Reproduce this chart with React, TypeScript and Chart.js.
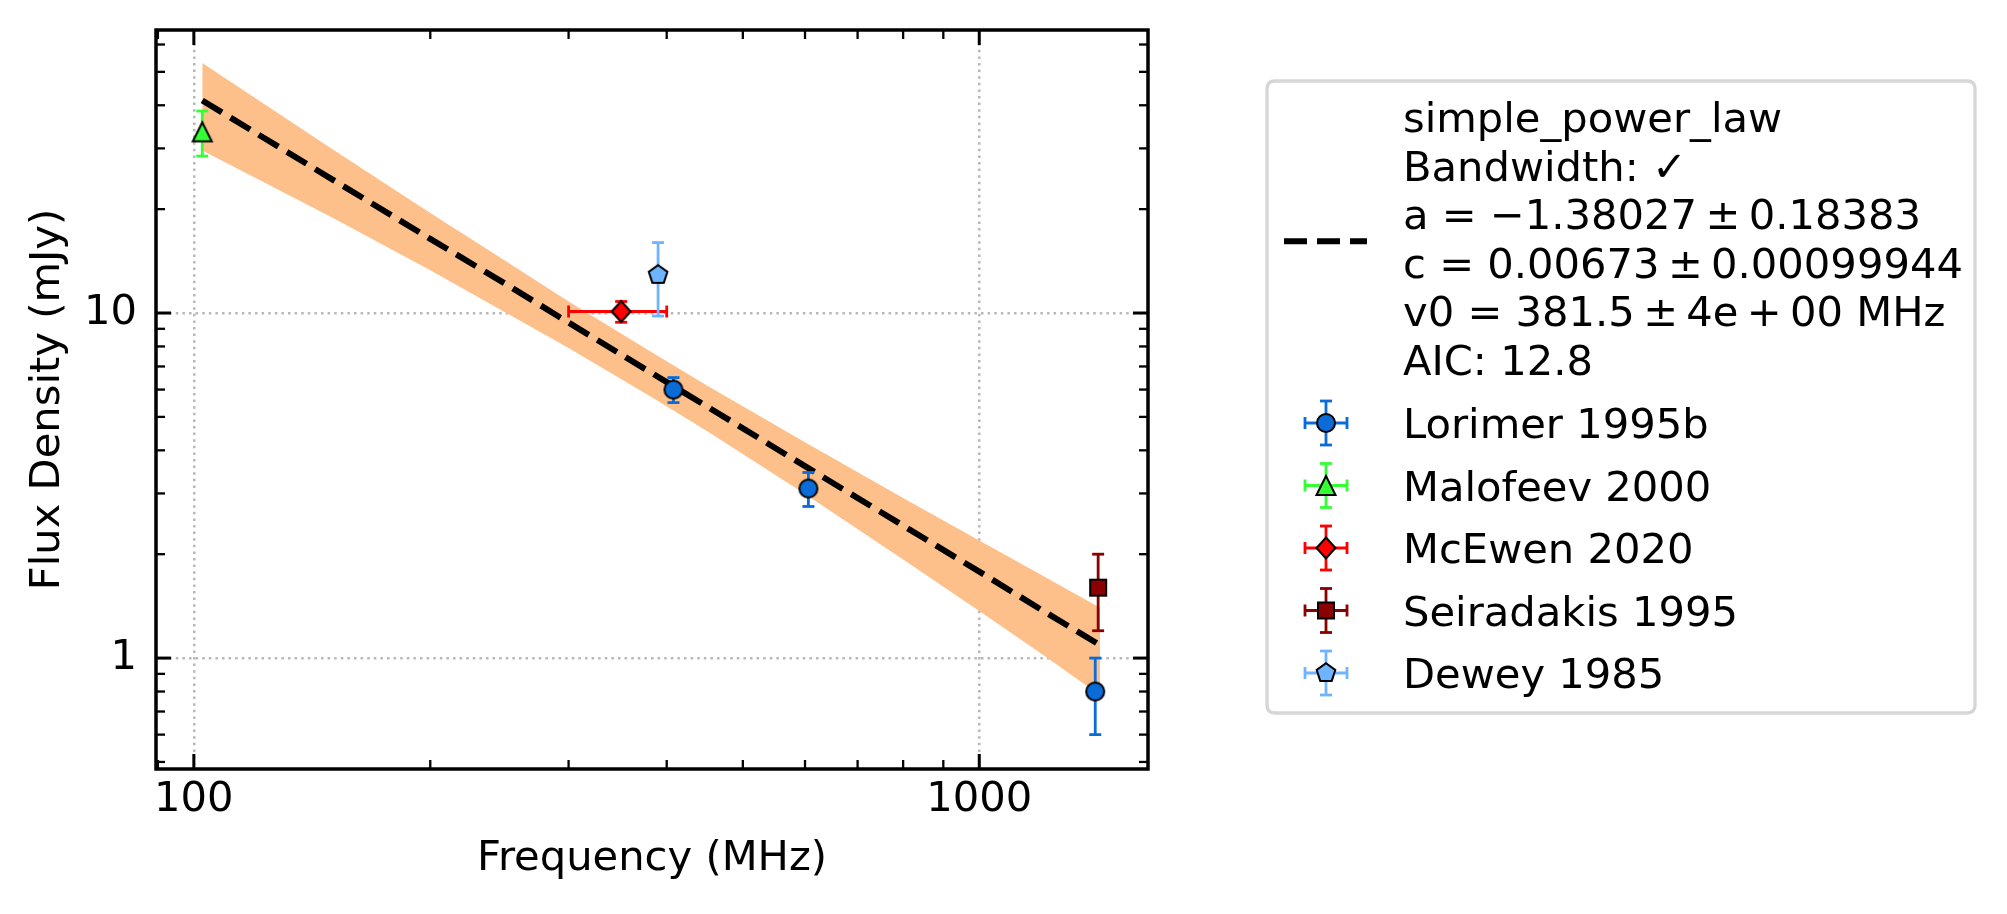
import { useEffect, useRef } from 'react';
import { Chart, registerables } from 'chart.js';

Chart.register(...registerables);

const W = 2007;
const H = 914;
const FONT_FAMILY = '"DejaVu Sans", "Liberation Sans", sans-serif';
const FS = 41.67;

// ---- Data ----
const LORIMER_FREQ = [408, 606, 1405];
const LORIMER_FLUX = [6.0, 3.1, 0.8];
const LORIMER_ERR = [0.5, 0.35, 0.2];

const MALOFEEV_FREQ = [102.5];
const MALOFEEV_FLUX = [33.5];
const MALOFEEV_ERR = [5.0];

const MCEWEN_FREQ = [350];
const MCEWEN_FLUX = [10.1];
const MCEWEN_ERR = [0.7];
const MCEWEN_FREQ_ERR = [50];

const SEIRADAKIS_FREQ = [1417];
const SEIRADAKIS_FLUX = [1.6];
const SEIRADAKIS_ERR = [0.4];

const DEWEY_FREQ = [390];
const DEWEY_FLUX = [12.9];
const DEWEY_ERR = [3.1];

const FIT_FREQ = [102.5, 150, 200, 250, 300, 381.5, 450, 600, 800, 1000, 1200, 1425];
const FIT_FLUX = [41.3, 24.4, 16.4, 12.1, 9.38, 6.73, 5.36, 3.6, 2.42, 1.78, 1.38, 1.09];
const FIT_UPPER = [53.0, 29.9, 19.5, 14.1, 10.8, 7.73, 6.17, 4.22, 2.91, 2.19, 1.74, 1.4];
const FIT_LOWER = [29.6, 18.9, 13.3, 10.0, 7.92, 5.73, 4.55, 2.99, 1.93, 1.37, 1.03, 0.78];

const X_MAJOR = [100, 1000];
const X_MINOR = [90, 200, 300, 400, 500, 600, 700, 800, 900];
const Y_MAJOR = [1, 10];
const Y_MINOR = [0.5, 0.6, 0.7, 0.8, 0.9, 2, 3, 4, 5, 6, 7, 8, 9, 20, 30, 40, 50, 60];
const X_RANGE = [89.5, 1640];
const Y_RANGE = [0.477, 66.1];

const X_TITLE = 'Frequency (MHz)';
const Y_TITLE = 'Flux Density (mJy)';

const FIT_LEGEND_LINES = [
  ['simple_power_law'],
  ['Bandwidth: \u2713'],
  ['a = \u22121.38027', '\u00b1', '0.18383'],
  ['c = 0.00673', '\u00b1', '0.00099944'],
  ['v0 = 381.5', '\u00b1', '4e', '+', '00 MHz'],
  ['AIC: 12.8'],
];

type Series = {
  label: string;
  marker: string;
  color: string;
  freq: number[];
  flux: number[];
  err: number[];
  ferr: number[] | null;
};

const SERIES: Series[] = [
  { label: 'Lorimer 1995b', marker: 'circle', color: '#0B6CD8', freq: LORIMER_FREQ, flux: LORIMER_FLUX, err: LORIMER_ERR, ferr: null },
  { label: 'Malofeev 2000', marker: 'triangle', color: '#33FF33', freq: MALOFEEV_FREQ, flux: MALOFEEV_FLUX, err: MALOFEEV_ERR, ferr: null },
  { label: 'McEwen 2020', marker: 'diamond', color: '#FF0000', freq: MCEWEN_FREQ, flux: MCEWEN_FLUX, err: MCEWEN_ERR, ferr: MCEWEN_FREQ_ERR },
  { label: 'Seiradakis 1995', marker: 'square', color: '#8B0000', freq: SEIRADAKIS_FREQ, flux: SEIRADAKIS_FLUX, err: SEIRADAKIS_ERR, ferr: null },
  { label: 'Dewey 1985', marker: 'pentagon', color: '#6EB4FF', freq: DEWEY_FREQ, flux: DEWEY_FLUX, err: DEWEY_ERR, ferr: null },
];

const BAND_COLOR = '#FEC08A';
const ERR_W = 2.8;
const CAP = 6;

function drawMarker(ctx: CanvasRenderingContext2D, kind: string, x: number, y: number, fill: string) {
  ctx.save();
  ctx.beginPath();
  if (kind === 'circle') {
    ctx.arc(x, y, 9, 0, Math.PI * 2);
  } else if (kind === 'triangle') {
    ctx.moveTo(x, y - 9.5);
    ctx.lineTo(x - 9.5, y + 9.5);
    ctx.lineTo(x + 9.5, y + 9.5);
    ctx.closePath();
  } else if (kind === 'diamond') {
    ctx.moveTo(x, y - 10.5);
    ctx.lineTo(x + 9.5, y);
    ctx.lineTo(x, y + 10.5);
    ctx.lineTo(x - 9.5, y);
    ctx.closePath();
  } else if (kind === 'square') {
    ctx.rect(x - 8, y - 8, 16, 16);
  } else if (kind === 'pentagon') {
    for (let i = 0; i < 5; i++) {
      const a = -Math.PI / 2 + (i * 2 * Math.PI) / 5;
      const px = x + 9.8 * Math.cos(a);
      const py = y + 9.8 * Math.sin(a);
      if (i === 0) ctx.moveTo(px, py);
      else ctx.lineTo(px, py);
    }
    ctx.closePath();
  }
  ctx.fillStyle = fill;
  ctx.fill();
  ctx.lineWidth = 2;
  ctx.lineJoin = 'miter';
  ctx.strokeStyle = '#000';
  ctx.stroke();
  ctx.restore();
}

function makeMarkerImage(kind: string, fill: string) {
  const c = document.createElement('canvas');
  c.width = 32;
  c.height = 32;
  const g = c.getContext('2d')!;
  drawMarker(g, kind, 16, 16, fill);
  return c;
}

function seg(ctx: CanvasRenderingContext2D, x1: number, y1: number, x2: number, y2: number) {
  ctx.beginPath();
  ctx.moveTo(x1, y1);
  ctx.lineTo(x2, y2);
  ctx.stroke();
}

const errorBarPlugin = {
  id: 'errorBars',
  beforeDatasetDraw(chart: any, args: any) {
    const ds = chart.data.datasets[args.index];
    if (!ds.errY) return;
    const xs = chart.scales.x;
    const ys = chart.scales.y;
    const ctx = chart.ctx as CanvasRenderingContext2D;
    ctx.save();
    ctx.strokeStyle = ds.errColor;
    ctx.lineWidth = ERR_W;
    ctx.lineCap = 'butt';
    ds.data.forEach((p: any, i: number) => {
      const px = xs.getPixelForValue(p.x);
      const py = ys.getPixelForValue(p.y);
      const e = ds.errY[i];
      const y1 = ys.getPixelForValue(p.y + e);
      const y2 = ys.getPixelForValue(p.y - e);
      seg(ctx, px, y1, px, y2);
      seg(ctx, px - CAP, y1, px + CAP, y1);
      seg(ctx, px - CAP, y2, px + CAP, y2);
      if (ds.errX && ds.errX[i]) {
        const ex = ds.errX[i];
        const x1 = xs.getPixelForValue(p.x - ex);
        const x2 = xs.getPixelForValue(p.x + ex);
        seg(ctx, x1, py, x2, py);
        seg(ctx, x1, py - CAP, x1, py + CAP);
        seg(ctx, x2, py - CAP, x2, py + CAP);
      }
    });
    ctx.restore();
  },
};

const framePlugin = {
  id: 'frameTicks',
  afterDatasetsDraw(chart: any) {
    const ctx = chart.ctx as CanvasRenderingContext2D;
    const a = chart.chartArea;
    const xs = chart.scales.x;
    const ys = chart.scales.y;
    ctx.save();
    ctx.strokeStyle = '#000';
    ctx.lineCap = 'butt';
    const xt = (vals: number[], len: number, w: number) => {
      ctx.lineWidth = w;
      vals.forEach((v) => {
        const px = xs.getPixelForValue(v);
        if (px < a.left || px > a.right) return;
        seg(ctx, px, a.bottom, px, a.bottom - len);
        seg(ctx, px, a.top, px, a.top + len);
      });
    };
    const yt = (vals: number[], len: number, w: number) => {
      ctx.lineWidth = w;
      vals.forEach((v) => {
        const py = ys.getPixelForValue(v);
        if (py < a.top || py > a.bottom) return;
        seg(ctx, a.left, py, a.left + len, py);
        seg(ctx, a.right, py, a.right - len, py);
      });
    };
    xt(X_MAJOR, 15, 3);
    xt(X_MINOR, 9, 2.3);
    yt(Y_MAJOR, 15, 3);
    yt(Y_MINOR, 9, 2.3);
    ctx.lineWidth = 3.5;
    ctx.strokeRect(a.left, a.top, a.right - a.left, a.bottom - a.top);
    ctx.restore();
  },
};

const LEG = {
  left: 1267,
  top: 81,
  right: 1975,
  bottom: 713,
  textX: 1403,
  handleX: 1326,
  fitBase: 132,
  fitStep: 48.5,
  serBase: 438,
  serStep: 62.5,
};

const legendPlugin = {
  id: 'customLegend',
  afterDraw(chart: any) {
    const ctx = chart.ctx as CanvasRenderingContext2D;
    ctx.save();
    const r = 8;
    const { left: l, top: t, right: rr, bottom: b } = LEG;
    ctx.beginPath();
    ctx.moveTo(l + r, t);
    ctx.lineTo(rr - r, t);
    ctx.quadraticCurveTo(rr, t, rr, t + r);
    ctx.lineTo(rr, b - r);
    ctx.quadraticCurveTo(rr, b, rr - r, b);
    ctx.lineTo(l + r, b);
    ctx.quadraticCurveTo(l, b, l, b - r);
    ctx.lineTo(l, t + r);
    ctx.quadraticCurveTo(l, t, l + r, t);
    ctx.closePath();
    ctx.fillStyle = 'rgba(255,255,255,0.85)';
    ctx.fill();
    ctx.lineWidth = 3.3;
    ctx.strokeStyle = '#D6D6D6';
    ctx.stroke();

    ctx.font = `${FS}px ${FONT_FAMILY}`;
    ctx.fillStyle = '#000';
    ctx.textBaseline = 'alphabetic';
    ctx.textAlign = 'left';
    const gap = 0.2 * FS;
    FIT_LEGEND_LINES.forEach((parts, i) => {
      let cx = LEG.textX;
      const y = LEG.fitBase + i * LEG.fitStep;
      parts.forEach((p, j) => {
        ctx.fillText(p, cx, y);
        cx += ctx.measureText(p).width + (j < parts.length - 1 ? gap : 0);
      });
    });
    const midY = (LEG.fitBase + LEG.fitBase + 5 * LEG.fitStep) / 2 - 12;
    ctx.strokeStyle = '#000';
    ctx.lineWidth = 6;
    ctx.setLineDash([23, 10]);
    seg(ctx, 1284, midY, 1367, midY);
    ctx.setLineDash([]);

    SERIES.forEach((s, i) => {
      const base = LEG.serBase + i * LEG.serStep;
      const cy = base - 15;
      const cx = LEG.handleX;
      ctx.strokeStyle = s.color;
      ctx.lineWidth = ERR_W;
      seg(ctx, cx - 21, cy, cx + 21, cy);
      seg(ctx, cx - 21, cy - CAP, cx - 21, cy + CAP);
      seg(ctx, cx + 21, cy - CAP, cx + 21, cy + CAP);
      seg(ctx, cx, cy - 22, cx, cy + 22);
      seg(ctx, cx - CAP, cy - 22, cx + CAP, cy - 22);
      seg(ctx, cx - CAP, cy + 22, cx + CAP, cy + 22);
      drawMarker(ctx, s.marker, cx, cy, s.color);
      ctx.fillStyle = '#000';
      ctx.fillText(s.label, LEG.textX, base);
    });
    ctx.restore();
  },
};

export default function App() {
  const ref = useRef<HTMLCanvasElement>(null);

  useEffect(() => {
    const canvas = ref.current!;
    const font = { family: FONT_FAMILY, size: FS };

    const bandUpper = FIT_FREQ.map((f, i) => ({ x: f, y: FIT_UPPER[i] }));
    const bandLower = FIT_FREQ.map((f, i) => ({ x: f, y: FIT_LOWER[i] }));
    const fitLine = FIT_FREQ.map((f, i) => ({ x: f, y: FIT_FLUX[i] }));

    const datasets: any[] = [
      {
        label: 'band-upper',
        data: bandUpper,
        borderColor: 'transparent',
        borderWidth: 0,
        pointRadius: 0,
        fill: false,
        order: 10,
      },
      {
        label: 'band-lower',
        data: bandLower,
        borderColor: 'transparent',
        borderWidth: 0,
        pointRadius: 0,
        backgroundColor: BAND_COLOR,
        fill: '-1',
        order: 10,
      },
      {
        label: 'simple_power_law',
        data: fitLine,
        borderColor: '#000',
        borderWidth: 6,
        borderDash: [23, 10],
        borderCapStyle: 'butt',
        pointRadius: 0,
        fill: false,
        tension: 0,
        order: 9,
      },
    ];

    SERIES.forEach((s, k) => {
      datasets.push({
        label: s.label,
        data: s.freq.map((f, i) => ({ x: f, y: s.flux[i] })),
        showLine: false,
        pointStyle: makeMarkerImage(s.marker, s.color),
        pointRadius: 10,
        fill: false,
        order: 5 - k,
        errY: s.err,
        errX: s.ferr,
        errColor: s.color,
      });
    });

    const chart = new Chart(canvas, {
      type: 'line',
      data: { datasets },
      options: {
        animation: false,
        responsive: false,
        devicePixelRatio: 1,
        events: [],
        layout: { padding: { top: 30, right: 859, bottom: 0, left: 0 } },
        plugins: {
          legend: { display: false },
          tooltip: { enabled: false },
          title: { display: false },
        },
        scales: {
          x: {
            type: 'logarithmic',
            min: X_RANGE[0],
            max: X_RANGE[1],
            bounds: 'data',
            afterBuildTicks: (s: any) => {
              s.ticks = X_MAJOR.map((v) => ({ value: v }));
            },
            afterFit: (s: any) => {
              s.height = 145;
              s.paddingLeft = 0;
              s.paddingRight = 0;
              s.paddingTop = 0;
              s.paddingBottom = 0;
            },
            ticks: {
              callback: (v: any) => String(v),
              font,
              color: '#000',
              padding: 6.5,
              autoSkip: false,
              maxRotation: 0,
              minRotation: 0,
            },
            grid: { color: '#B8B8B8', lineWidth: 2.5, drawTicks: false },
            border: { display: false, dash: [2.5, 4.1] },
            title: {
              display: true,
              text: X_TITLE,
              font,
              color: '#000',
              padding: { top: 0, bottom: 30 },
            },
          },
          y: {
            type: 'logarithmic',
            min: Y_RANGE[0],
            max: Y_RANGE[1],
            bounds: 'data',
            afterBuildTicks: (s: any) => {
              s.ticks = Y_MAJOR.map((v) => ({ value: v }));
            },
            afterFit: (s: any) => {
              s.width = 156;
              s.paddingLeft = 0;
              s.paddingRight = 0;
              s.paddingTop = 0;
              s.paddingBottom = 0;
            },
            ticks: {
              callback: (v: any) => String(v),
              font,
              color: '#000',
              padding: 19,
              autoSkip: false,
            },
            grid: { color: '#B8B8B8', lineWidth: 2.5, drawTicks: false },
            border: { display: false, dash: [2.5, 4.1] },
            title: {
              display: true,
              text: Y_TITLE,
              font,
              color: '#000',
              padding: { top: 23, bottom: 0 },
            },
          },
        },
      } as any,
      plugins: [errorBarPlugin, framePlugin, legendPlugin],
    });

    return () => chart.destroy();
  }, []);

  return (
    <div style={{ position: 'fixed', left: 0, top: 0, width: W, height: H, background: '#fff' }}>
      <canvas ref={ref} width={W} height={H} style={{ display: 'block', width: W, height: H }} />
    </div>
  );
}
